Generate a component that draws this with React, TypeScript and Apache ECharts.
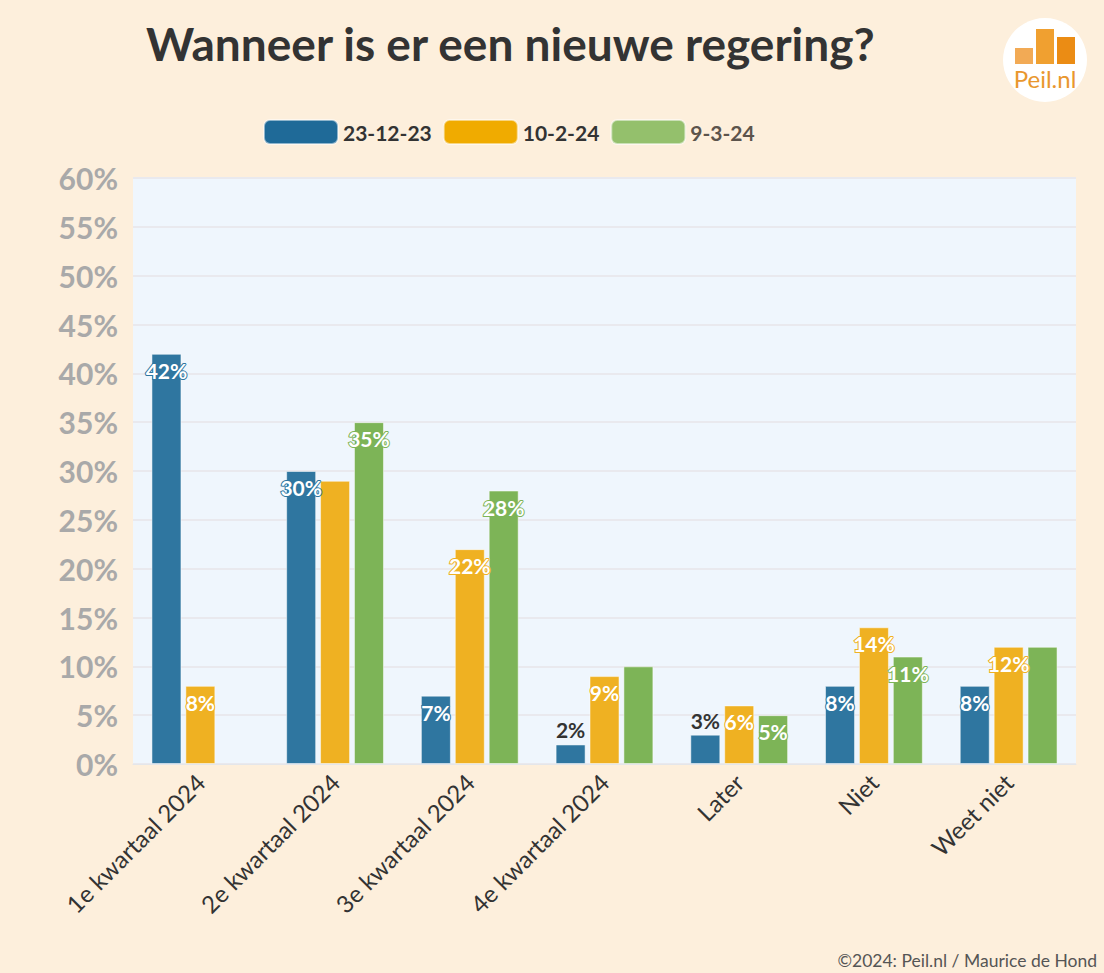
import React, { useEffect, useRef } from "react";
import * as echarts from "echarts";

const categories = ["1e kwartaal 2024", "2e kwartaal 2024", "3e kwartaal 2024", "4e kwartaal 2024", "Later", "Niet", "Weet niet"];
const seriesNames = ["23-12-23", "10-2-24", "9-3-24"];
const dec23 = [42, 30, 7, 2, 3, 8, 8];
const feb24 = [8, 29, 22, 9, 6, 14, 12];
const mar24: (number | null)[] = [null, 35, 28, 10, 5, 11, 12];
// label visibility per series (false = hidden in the reference)
const dec23Labels = [true, true, true, true, true, true, true];
const feb24Labels = [true, false, true, true, true, true, true];
const mar24Labels = [false, true, true, false, true, true, false];
// labels that sit above their bar (bar too short)
const dec23Outside = [false, false, false, true, true, false, false];
const yTicks = { min: 0, max: 60, interval: 5 };

const barColors = ["#2f76a0", "#efb122", "#7db457"];
const legendColors = ["#1f6a98", "#f0ab00", "#94c06c"];
const FONT = "Lato, 'Noto Sans', sans-serif";

function buildData(values: (number | null)[], shows: boolean[], color: string, outside?: boolean[]) {
  return values.map((v, i) => {
    if (v === null) return { value: null };
    const out = outside ? outside[i] : false;
    return {
      value: v,
      label: {
        show: shows[i],
        position: out ? "top" : "insideTop",
        distance: out ? 4 : 6,
        color: out ? "#333333" : "#ffffff",
        textBorderColor: out ? "transparent" : color,
        textBorderWidth: out ? 0 : 2,
      },
    };
  });
}

export default function App() {
  const ref = useRef<HTMLDivElement>(null);
  useEffect(() => {
    document.body.style.margin = "0";
    document.body.style.background = "#fdefdc";
    if (!ref.current) return;
    const chart = echarts.init(ref.current, null, { renderer: "svg" });
    const valuesList = [dec23, feb24, mar24];
    const showsList = [dec23Labels, feb24Labels, mar24Labels];
    chart.setOption({
      animation: false,
      backgroundColor: "#fdefdc",
      textStyle: { fontFamily: FONT },
      title: {
        text: "Wanneer is er een nieuwe regering?",
        left: 141,
        top: 15,
        textStyle: { fontFamily: FONT, fontSize: 46, fontWeight: "bold", color: "#333333" },
      },
      legend: {
        left: 258,
        top: 114,
        itemWidth: 74,
        itemHeight: 24,
        itemGap: 11,
        icon: "roundRect",
        textStyle: { fontFamily: FONT, fontSize: 21, fontWeight: "bold", color: "#333333" },
        data: seriesNames.map((n, i) => ({
          name: n,
          itemStyle: { color: legendColors[i] },
          textStyle: i === 2 ? { color: "#5c544c" } : undefined,
        })),
      },
      grid: {
        left: 133,
        right: 28,
        top: 178,
        bottom: 209,
        show: true,
        backgroundColor: "#eff6fd",
        borderWidth: 0,
      },
      xAxis: {
        type: "category",
        data: categories,
        axisLine: { lineStyle: { color: "#e4e6ea", width: 1 } },
        axisTick: { alignWithLabel: true, length: 6, lineStyle: { color: "#e4e2e0" } },
        axisLabel: {
          rotate: 45,
          interval: 0,
          margin: 14,
          fontFamily: FONT,
          fontSize: 24,
          color: "#333333",
        },
      },
      yAxis: {
        type: "value",
        min: yTicks.min,
        max: yTicks.max,
        interval: yTicks.interval,
        axisLabel: {
          formatter: "{value}%",
          fontFamily: FONT,
          fontSize: 30,
          fontWeight: "bold",
          color: "#a9a9a9",
          margin: 15,
        },
        splitLine: { lineStyle: { color: "#e9e9ee", width: 2 } },
        axisLine: { show: false },
        axisTick: { show: false },
      },
      series: seriesNames.map((n, si) => ({
        name: n,
        type: "bar",
        barWidth: 30,
        barGap: "13%",
        itemStyle: { color: barColors[si], borderColor: "rgba(255,255,255,0.5)", borderWidth: 1 },
        label: {
          show: true,
          formatter: "{c}%",
          fontFamily: FONT,
          fontSize: 21,
          fontWeight: "bold",
        },
        data: buildData(valuesList[si], showsList[si], barColors[si], si === 0 ? dec23Outside : undefined),
      })),
      graphic: [
        { type: "circle", shape: { cx: 1045, cy: 60, r: 42 }, style: { fill: "#ffffff" } },
        { type: "rect", shape: { x: 1015, y: 48, width: 18, height: 16 }, style: { fill: "#f2aa55" } },
        { type: "rect", shape: { x: 1036, y: 29, width: 18, height: 35 }, style: { fill: "#f0a030" } },
        { type: "rect", shape: { x: 1057, y: 37, width: 18, height: 27 }, style: { fill: "#eb8c14" } },
        {
          type: "text",
          x: 1045,
          y: 78,
          style: {
            text: "Peil.nl",
            fill: "#e9972e",
            font: "24px " + FONT,
            textAlign: "center",
            textVerticalAlign: "middle",
          },
        },
        {
          type: "text",
          right: 7,
          bottom: 4,
          style: {
            text: "©2024: Peil.nl / Maurice de Hond",
            fill: "#555555",
            font: "17.5px " + FONT,
          },
        },
      ],
    });
    return () => chart.dispose();
  }, []);
  return <div ref={ref} style={{ width: 1104, height: 973 }} />;
}
